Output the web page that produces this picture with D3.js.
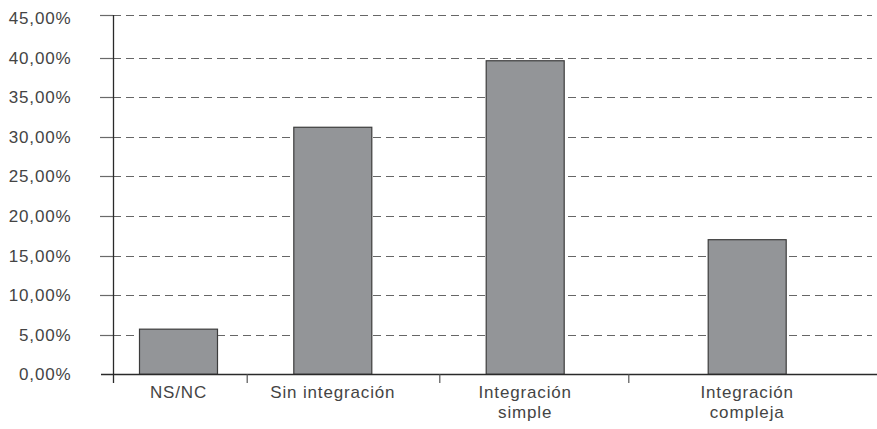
<!DOCTYPE html>
<html>
<head>
<meta charset="utf-8">
<script src="https://cdn.jsdelivr.net/npm/d3@7"></script>
<style>
  html, body { margin: 0; padding: 0; background: #ffffff; }
  svg { display: block; }
  text { font-family: "Liberation Sans", Arial, sans-serif; fill: #444444; letter-spacing: 0.85px; }
</style>
</head>
<body>
<svg id="chart" width="877" height="429"></svg>
<script>
// ---- data ----
const categories = ["NS/NC", "Sin integración", "Integración simple", "Integración compleja"];
const labelLines = [["NS/NC"], ["Sin integración"], ["Integración", "simple"], ["Integración", "compleja"]];
const values = [5.7, 31.2, 39.6, 17.0];
const yTickValues = [0, 5, 10, 15, 20, 25, 30, 35, 40, 45];
const yTickLabels = ["0,00%", "5,00%", "10,00%", "15,00%", "20,00%", "25,00%", "30,00%", "35,00%", "40,00%", "45,00%"];

// ---- layout ----
const svg = d3.select("#chart");
const axisX = 113, plotRight = 872, baseY = 374.3;
const y = d3.scaleLinear().domain([0, 45]).range([baseY, 18]);
// category band boundaries (uneven in original) and bar centres
const xBound = d3.scaleLinear().domain([0, 1, 2, 3]).range([113, 246.7, 439.3, 628.3]);
const xMid = d3.scaleLinear().domain([0, 1, 2, 3]).range([178.5, 332.8, 525.2, 747.2]);
const barW = 78;
const maxV = d3.max(yTickValues);
// the top (45%) line sits at the frame top, slightly above its label
const lineY = d => (d === maxV ? Math.round(y(d)) - 3 : Math.round(y(d))) + 0.5;

// gridlines
svg.append("g").selectAll("line.grid")
  .data(yTickValues.filter(v => v > 0))
  .join("line")
  .attr("x1", axisX).attr("x2", plotRight)
  .attr("y1", lineY).attr("y2", lineY)
  .attr("stroke", "#666").attr("stroke-width", 1.2)
  .attr("stroke-dasharray", "8,5");

// y tick marks
svg.append("g").selectAll("line.ytick")
  .data(yTickValues.filter(v => v > 0))
  .join("line")
  .attr("x1", 100).attr("x2", axisX)
  .attr("y1", lineY).attr("y2", lineY)
  .attr("stroke", "#6a6a6a").attr("stroke-width", 1.2);

// y tick labels
svg.append("g").selectAll("text.ylab")
  .data(yTickValues)
  .join("text")
  .attr("x", 71.5).attr("y", d => y(d))
  .attr("dy", "0.36em")
  .attr("text-anchor", "end")
  .attr("font-size", 17)
  .text((d, i) => yTickLabels[i]);

// bars
svg.append("g").selectAll("rect.bar")
  .data(values)
  .join("rect")
  .attr("x", (d, i) => xMid(i) - barW / 2)
  .attr("y", d => y(d))
  .attr("width", barW)
  .attr("height", d => baseY - y(d))
  .attr("fill", "#939598")
  .attr("stroke", "#3c3c3c")
  .attr("stroke-width", 1.2);

// axes lines
svg.append("line")
  .attr("x1", axisX + 0.5).attr("x2", axisX + 0.5)
  .attr("y1", 15).attr("y2", 383)
  .attr("stroke", "#2a2a2a").attr("stroke-width", 1.3);
svg.append("line")
  .attr("x1", 101).attr("x2", 877)
  .attr("y1", Math.round(baseY) + 0.5).attr("y2", Math.round(baseY) + 0.5)
  .attr("stroke", "#2a2a2a").attr("stroke-width", 1.3);

// x tick marks at category boundaries
svg.append("g").selectAll("line.xtick")
  .data([1, 2, 3])
  .join("line")
  .attr("x1", d => xBound(d) + 0.5).attr("x2", d => xBound(d) + 0.5)
  .attr("y1", baseY).attr("y2", 383)
  .attr("stroke", "#555").attr("stroke-width", 1.2);

// category labels
const lab = svg.append("g").selectAll("text.xlab")
  .data(categories)
  .join("text")
  .attr("text-anchor", "middle")
  .attr("font-size", 17)
  .attr("x", (d, i) => xMid(i))
  .attr("y", 398);
lab.selectAll("tspan")
  .data((d, i) => labelLines[i].map(t => ({t, x: xMid(i)})))
  .join("tspan")
  .attr("x", d => d.x)
  .attr("dy", (d, j) => j === 0 ? 0 : 19.5)
  .text(d => d.t);
</script>
</body>
</html>
